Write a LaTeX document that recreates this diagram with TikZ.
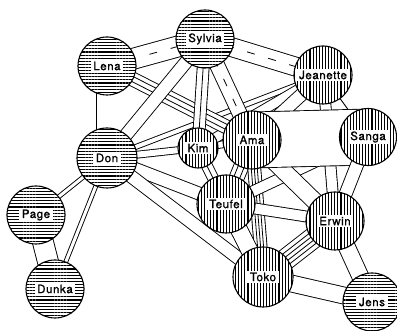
\documentclass[tikz,border=0pt]{standalone}
\usepackage{fontspec}
\newfontfamily\labfam[LetterSpace=5,FakeBold=1.2]{TeX Gyre Heros}
\usetikzlibrary{patterns.meta,backgrounds,calc}
\tikzset{
  person/.style={circle, draw, line width=1.1pt, minimum size=#1, inner sep=0pt, preaction={fill=white}},
  hz/.style={pattern={Lines[angle=0,distance=3.1pt,line width=1.1pt]}},
  vt/.style={pattern={Lines[angle=90,distance=3.1pt,line width=1.1pt]}},
  lab/.style={fill=white, inner xsep=2.5pt, inner ysep=1.8pt, font=\labfam\fontsize{11.5}{13}\selectfont},
  bandline/.style={draw=black, line width=0.9pt, double=white},
  inner/.style={line width=0.8pt},
  innerdash/.style={line width=0.8pt, dash pattern=on 8pt off 14pt},
  single/.style={line width=0.9pt}
}
\newcommand\band[3]{\draw[bandline, double distance=#3pt] (#1.center) -- (#2.center);}
\newcommand\hatchband[5]{%
  \draw[bandline, double distance=#3pt] (#1.center) -- (#2.center);
  \foreach \o in {#4} {\draw[#5] ($(#1.center)!\o pt!90:(#2.center)$) -- ($(#2.center)!\o pt!-90:(#1.center)$);}
}
\begin{document}
\begin{tikzpicture}[x=1pt,y=-1pt]
\useasboundingbox (0,0) rectangle (397,331);
% persons
\node[person=58pt, hz, label={[lab]center:Sylvia}] (Sylvia) at (205,39) {};
\node[person=58pt, hz, label={[lab]center:Lena}] (Lena) at (107,66) {};
\node[person=58pt, vt, label={[lab]center:Jeanette}] (Jeanette) at (323,75) {};
\node[person=60pt, hz, label={[lab]center:Don}] (Don) at (107,158) {};
\node[person=40pt, vt, label={[lab]center:Kim}] (Kim) at (198,148) {};
\node[person=58pt, vt, label={[lab]center:Ama}] (Ama) at (252,140) {};
\node[person=57pt, vt, label={[lab]center:Sanga}] (Sanga) at (368,137) {};
\node[person=58pt, hz, label={[lab]center:Page}] (Page) at (36,215) {};
\node[person=58pt, vt, label={[lab]center:Teufel}] (Teufel) at (226,204) {};
\node[person=58pt, vt, label={[lab]center:Erwin}] (Erwin) at (335,221) {};
\node[person=58pt, hz, label={[lab]center:Dunka}] (Dunka) at (55,289) {};
\node[person=60pt, vt, label={[lab]center:Toko}] (Toko) at (263,277) {};
\node[person=58pt, hz, label={[lab]center:Jens}] (Jens) at (372,302) {};
% ties
\begin{scope}[on background layer]
\draw[single] (Jeanette.center) -- (Sanga.center);
\band{Don}{Page}{3}
\band{Don}{Dunka}{3}
\band{Don}{Jeanette}{4}
\band{Kim}{Ama}{6}
\band{Don}{Kim}{6}
\band{Jeanette}{Kim}{9}
\hatchband{Lena}{Ama}{13}{-2.5,2.5}{inner}
\band{Sylvia}{Don}{12}
\hatchband{Sylvia}{Kim}{11}{0}{inner}
\hatchband{Sylvia}{Ama}{14}{0}{innerdash}
\hatchband{Lena}{Sylvia}{20}{0}{innerdash}
\hatchband{Sylvia}{Jeanette}{18}{0}{innerdash}
\band{Jeanette}{Ama}{12}
\hatchband{Kim}{Teufel}{10}{0}{inner}
\hatchband{Ama}{Teufel}{14}{-3,3}{inner}
\band{Don}{Teufel}{12}
\band{Don}{Toko}{12}
\hatchband{Ama}{Toko}{12}{-3,0,3}{inner}
\band{Teufel}{Sanga}{10}
\band{Teufel}{Erwin}{10}
\band{Teufel}{Toko}{16}
\band{Ama}{Erwin}{16}
\band{Jeanette}{Erwin}{10}
\band{Ama}{Sanga}{55}
\band{Erwin}{Sanga}{12}
\hatchband{Erwin}{Toko}{20}{-6,-2,2,6}{inner}
\band{Erwin}{Jens}{16}
\band{Toko}{Jens}{16}
\band{Page}{Dunka}{20}
\band{Lena}{Don}{21}
\end{scope}
\end{tikzpicture}
\end{document}
